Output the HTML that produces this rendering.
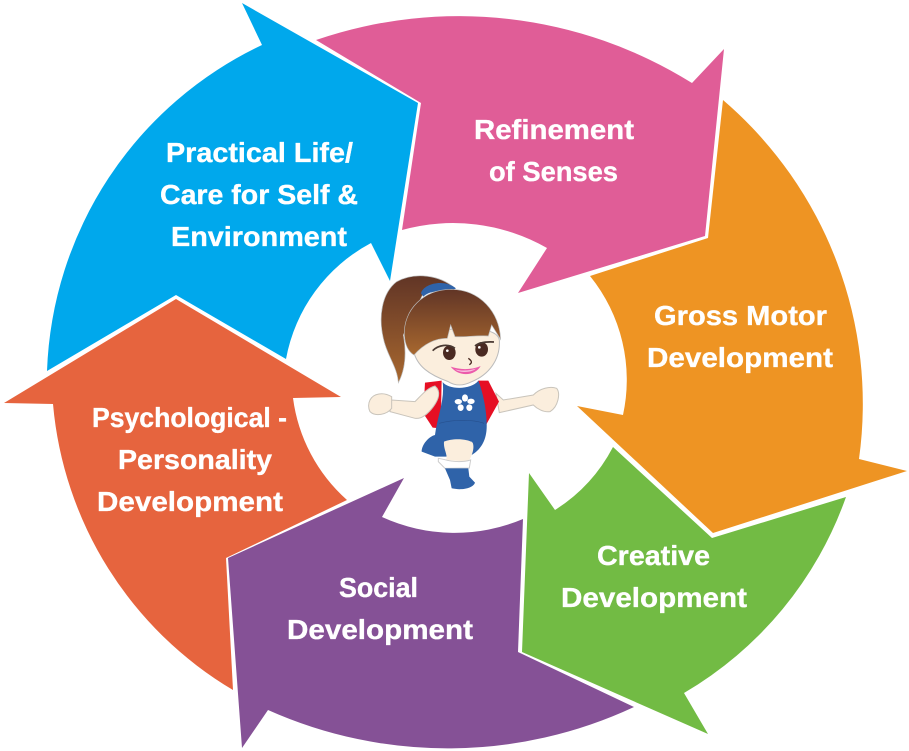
<!DOCTYPE html>
<html><head><meta charset="utf-8"><style>
html,body{margin:0;padding:0;background:#fff;width:909px;height:751px;overflow:hidden}
svg{display:block}
text{font-family:"Liberation Sans",sans-serif;font-weight:bold;font-size:28px;fill:#fff;stroke:#fff;stroke-width:.35px;letter-spacing:0}
</style></head><body>
<svg width="909" height="751" viewBox="0 0 909 751" xmlns="http://www.w3.org/2000/svg">
<defs>
<linearGradient id="h" x1="0" y1="0" x2="0" y2="1"><stop offset="0" stop-color="#613526"/><stop offset="1" stop-color="#a8682f"/></linearGradient>
</defs>
<path fill="#00a8ec" d="M242 3L262 45A375 375 0 0 0 47 371L176 295L286 359A165 165 0 0 1 371 243L390 281L418 103Z"/>
<path fill="#e05d97" d="M316 40A440 440 0 0 1 692 83L724 49L705 236L518 293L547 248A190 190 0 0 0 402 230L421 103Z"/>
<path fill="#ee9423" d="M723 100A400 400 0 0 1 859 459L907 471L713 533L577 406L623 415A165 165 0 0 0 590 276L708 238Z"/>
<path fill="#72bb44" d="M846 497A370 370 0 0 1 684 693L708 734L522 652L529 473L555 510A165 165 0 0 0 613 447L712 538Z"/>
<path fill="#855196" d="M242 748L268 710A440 440 0 0 0 634 707L518 652L523 519A175 175 0 0 1 382 517L404 478L228 558Z"/>
<path fill="#e6643e" d="M4 403L53 404A370 370 0 0 0 233 690L226 558L347 500A165 165 0 0 1 293 398L341 397L176 299Z"/>

<g>
<text x="166" y="162" textLength="187" lengthAdjust="spacingAndGlyphs">Practical Life/</text>
<text x="160" y="204" textLength="198" lengthAdjust="spacingAndGlyphs">Care for Self &amp;</text>
<text x="171" y="246" textLength="176" lengthAdjust="spacingAndGlyphs">Environment</text>
<text x="474" y="139" textLength="160" lengthAdjust="spacingAndGlyphs">Refinement</text>
<text x="489" y="181" textLength="129" lengthAdjust="spacingAndGlyphs">of Senses</text>
<text x="654" y="325" textLength="173" lengthAdjust="spacingAndGlyphs">Gross Motor</text>
<text x="647" y="367" textLength="186" lengthAdjust="spacingAndGlyphs">Development</text>
<text x="597" y="565" textLength="113" lengthAdjust="spacingAndGlyphs">Creative</text>
<text x="561" y="607" textLength="186" lengthAdjust="spacingAndGlyphs">Development</text>
<text x="339" y="597" textLength="79" lengthAdjust="spacingAndGlyphs">Social</text>
<text x="287" y="639" textLength="186" lengthAdjust="spacingAndGlyphs">Development</text>
<text x="92" y="427" textLength="195" lengthAdjust="spacingAndGlyphs">Psychological -</text>
<text x="118" y="469" textLength="154" lengthAdjust="spacingAndGlyphs">Personality</text>
<text x="97" y="511" textLength="186" lengthAdjust="spacingAndGlyphs">Development</text>
</g>

<g transform="translate(340 260) scale(.3333)">
<!-- ponytail -->
<path fill="url(#h)" stroke="#bbb" stroke-width="2" d="M345 85C300 45 225 35 170 65C125 100 115 170 130 235C140 285 172 320 175 368C195 330 200 280 190 225L250 100Z"/>
<path fill="#2f63a9" d="M243 100C250 72 310 55 348 85L335 92C295 90 265 95 250 110Z"/>
<!-- right arm -->
<path fill="#fbeedd" stroke="#c9c4bb" stroke-width="3" d="M468 400L490 420L580 405C600 385 630 378 650 385C662 400 655 440 630 455C610 458 590 445 580 435L478 458Z"/>
<!-- backpack -->
<path fill="#e60f24" d="M255 368L305 362L302 505L278 503L250 460Z"/>
<path fill="#e60f24" d="M415 362L445 362L477 425L438 495L430 430Z"/>
<!-- dress -->
<path fill="#2f63a9" d="M308 366C325 390 395 390 415 362C430 400 442 460 440 505C438 545 420 570 395 585L395 545L315 545L320 590L285 590L245 575C245 555 265 530 285 525C292 470 315 420 308 366Z"/>
<!-- left arm -->
<path fill="#fbeedd" stroke="#c9c4bb" stroke-width="3" d="M285 378C305 395 295 420 280 440C265 460 245 478 225 475L150 455L155 420L225 425C245 405 260 385 285 378Z"/>
<path fill="#fbeedd" stroke="#c9c4bb" stroke-width="3" d="M90 420C100 400 130 395 155 410L155 445C140 465 105 470 90 455C83 440 85 430 90 420Z"/>
<!-- leg -->
<path fill="#fbeedd" d="M312 545C335 535 380 535 398 548C405 565 395 590 385 605L318 600C325 585 310 570 312 545Z"/>
<path fill="#fff" stroke="#ccc" stroke-width="3" d="M295 595L310 598C335 605 365 608 392 600L388 624L315 625L295 605Z"/>
<path fill="#2f63a9" d="M315 625L385 625L388 650L405 668C400 685 365 692 335 685L330 660Z"/>
<!-- flower -->
<g fill="#fff">
<ellipse cx="375" cy="414" rx="9" ry="11"/><ellipse cx="393" cy="424" rx="11" ry="8"/><ellipse cx="388" cy="443" rx="9" ry="10"/><ellipse cx="362" cy="443" rx="9" ry="10"/><ellipse cx="355" cy="425" rx="11" ry="8"/>
</g>
<circle cx="375" cy="430" r="5" fill="#2f63a9"/>
<path fill="none" stroke="#264f8c" stroke-width="2" d="M298 490C340 478 400 478 432 490"/>
<!-- head -->
<path fill="#fbeedd" stroke="#bbb" stroke-width="3" d="M220 270C215 200 470 180 478 240C482 300 445 345 395 365C370 378 345 378 325 365C270 345 230 320 220 270Z"/>
<!-- fringe -->
<path fill="url(#h)" stroke="#bbb" stroke-width="2" d="M193 225C190 150 250 88 335 88C420 90 478 155 482 238L455 195L445 228C420 225 370 232 345 230L332 195L322 235C290 235 255 248 222 285C205 275 195 255 193 225Z"/>
<!-- eyes -->
<ellipse cx="328" cy="278" rx="19" ry="22" fill="#4a2a22"/><ellipse cx="425" cy="268" rx="19" ry="22" fill="#4a2a22"/>
<circle cx="322" cy="272" r="4" fill="#fff"/><circle cx="418" cy="262" r="4" fill="#fff"/>
<path fill="none" stroke="#4a3a33" stroke-width="5" d="M278 272C295 255 325 250 345 265M405 258C420 245 445 245 462 246"/>
<path fill="none" stroke="#4a2a22" stroke-width="4" d="M385 295C395 302 398 308 388 314"/>
<path fill="#ec5bab" d="M332 320C360 330 395 330 422 318C408 345 360 355 332 320Z"/>
<path fill="#fff" d="M345 328C365 334 390 332 408 326C395 338 362 340 345 328Z" opacity=".6"/>
</g>
</svg>
</body></html>
